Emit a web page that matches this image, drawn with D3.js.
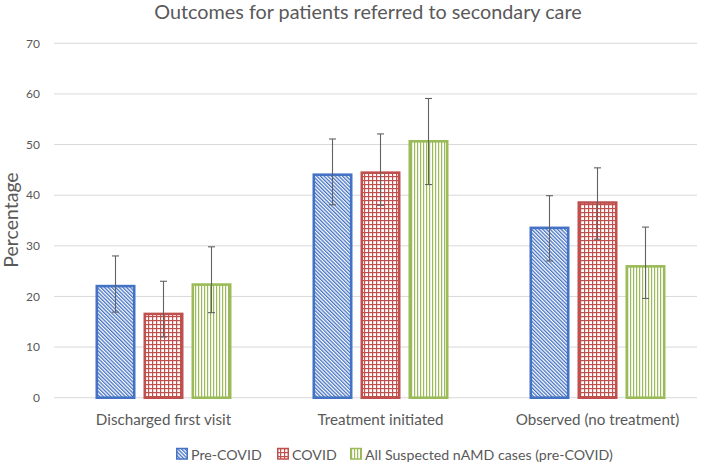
<!DOCTYPE html>
<html>
<head>
<meta charset="utf-8">
<script src="https://d3js.org/d3.v7.min.js"></script>
<style>
  body { margin: 0; background: #fff; }
  text { font-family: Lato, "Open Sans", sans-serif; fill: #595959; }
</style>
</head>
<body>
<div id="chart"></div>
<script>
const categories = ["Discharged first visit", "Treatment initiated", "Observed (no treatment)"];
const seriesNames = ["Pre-COVID", "COVID", "All Suspected nAMD cases (pre-COVID)"];
const preCovid = [22.3, 44.3, 33.8];
const covid = [16.8, 44.7, 38.8];
const allSuspected = [22.6, 50.9, 26.2];
const errLow = [[16.9, 38.1, 27.0], [12.0, 38.0, 31.3], [16.8, 42.1, 19.6]];
const errHigh = [[28.0, 51.1, 39.9], [23.0, 52.1, 45.4], [29.8, 59.1, 33.7]];
const yTicks = [0, 10, 20, 30, 40, 50, 60, 70];

const colors = ["#4472C4", "#C0504D", "#9BBB59"];
const values = [preCovid, covid, allSuspected];

const W = 709, H = 464;
const svg = d3.select("#chart").append("svg").attr("width", W).attr("height", H);

// fill patterns: diagonal, grid, vertical
const defs = svg.append("defs");
const p0 = defs.append("pattern").attr("id", "pat0").attr("patternUnits", "userSpaceOnUse")
  .attr("width", 2.6).attr("height", 2.6).attr("patternTransform", "rotate(-45)");
p0.append("rect").attr("width", 2.6).attr("height", 2.6).attr("fill", "#fff");
p0.append("rect").attr("width", 1.3).attr("height", 2.6).attr("fill", colors[0]);

const p1 = defs.append("pattern").attr("id", "pat1").attr("patternUnits", "userSpaceOnUse")
  .attr("width", 4).attr("height", 4);
p1.append("rect").attr("width", 4).attr("height", 4).attr("fill", colors[1]);
p1.append("rect").attr("x", 1.2).attr("y", 1.2).attr("width", 2.8).attr("height", 2.8).attr("fill", "#fff");

const p2 = defs.append("pattern").attr("id", "pat2").attr("patternUnits", "userSpaceOnUse")
  .attr("width", 3).attr("height", 3);
p2.append("rect").attr("width", 3).attr("height", 3).attr("fill", "#fff");
p2.append("rect").attr("width", 1.2).attr("height", 3).attr("fill", colors[2]);

const x = d3.scaleBand().domain(categories).range([55, 706]);
const groupW = 136;
const x1 = d3.scaleBand().domain(d3.range(3))
  .range([(x.bandwidth() - groupW) / 2, (x.bandwidth() + groupW) / 2])
  .paddingInner(1 / 6).paddingOuter(0);
const y = d3.scaleLinear().domain([0, 70]).range([397.7, 43.3]);

// gridlines
svg.append("g").selectAll("line").data(yTicks).join("line")
  .attr("x1", 54).attr("x2", 697)
  .attr("y1", d => y(d)).attr("y2", d => y(d))
  .attr("stroke", "#d9d9d9").attr("stroke-width", 1);

// y tick labels
svg.append("g").selectAll("text").data(yTicks).join("text")
  .attr("x", 40).attr("y", d => y(d)).attr("dy", "0.35em")
  .attr("text-anchor", "end").attr("font-size", 12).text(d => d);

// bars
const sw = 2.6;
values.forEach((vals, s) => {
  svg.append("g").selectAll("rect").data(vals).join("rect")
    .attr("x", (d, i) => x(categories[i]) + x1(s) + sw / 2)
    .attr("width", x1.bandwidth() - sw)
    .attr("y", d => y(d) + sw / 2)
    .attr("height", d => y(0) - y(d) - sw / 2)
    .attr("fill", `url(#pat${s})`)
    .attr("stroke", colors[s]).attr("stroke-width", sw);
});

// error bars
values.forEach((vals, s) => {
  const g = svg.append("g").attr("stroke", "#626262").attr("stroke-width", 1.1);
  vals.forEach((d, i) => {
    const cx = x(categories[i]) + x1(s) + x1.bandwidth() / 2;
    const lo = y(errLow[s][i]), hi = y(errHigh[s][i]);
    g.append("line").attr("x1", cx).attr("x2", cx).attr("y1", lo).attr("y2", hi);
    g.append("line").attr("x1", cx - 3.5).attr("x2", cx + 3.5).attr("y1", lo).attr("y2", lo);
    g.append("line").attr("x1", cx - 3.5).attr("x2", cx + 3.5).attr("y1", hi).attr("y2", hi);
  });
});

// category labels
svg.append("g").selectAll("text").data(categories).join("text")
  .attr("x", d => x(d) + x.bandwidth() / 2).attr("y", 425)
  .attr("text-anchor", "middle").attr("font-size", 15.2).text(d => d);

// title
svg.append("text").attr("x", 368).attr("y", 19).attr("text-anchor", "middle")
  .attr("font-size", 19.8).text("Outcomes for patients referred to secondary care");

// y axis title
svg.append("text").attr("transform", "translate(17.5,220) rotate(-90)")
  .attr("text-anchor", "middle").attr("font-size", 19.5).text("Percentage");

// legend
const legendX = [176, 277, 350];
const lg = svg.append("g");
seriesNames.forEach((name, s) => {
  lg.append("rect").attr("x", legendX[s] + 0.75).attr("y", 448.5).attr("width", 10.5).attr("height", 10.5)
    .attr("fill", `url(#pat${s})`).attr("stroke", colors[s]).attr("stroke-width", 1.5);
  lg.append("text").attr("x", legendX[s] + 15).attr("y", 460)
    .attr("font-size", 14.2).text(name);
});
</script>
</body>
</html>
